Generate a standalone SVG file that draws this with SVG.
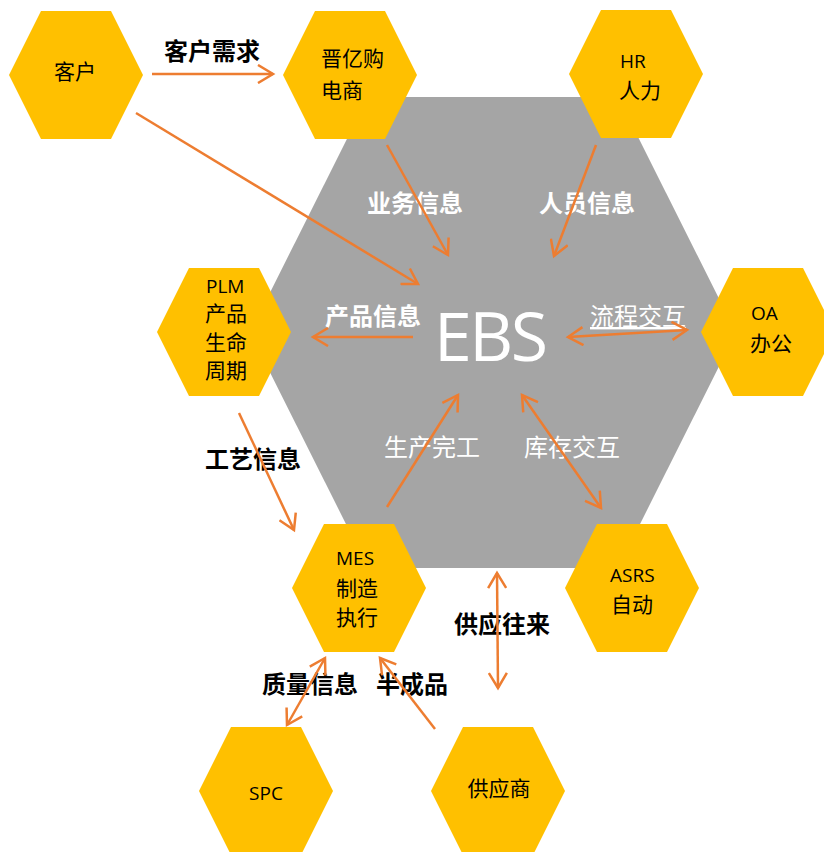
<svg xmlns="http://www.w3.org/2000/svg" xmlns:xlink="http://www.w3.org/1999/xlink" width="824" height="852" viewBox="0 0 824 852">
<style>
.hex{fill:#FFC000}
.nt{font-family:"Noto Sans CJK SC","Noto Sans",sans-serif;font-size:21px;fill:#000}
.lt{font-family:"Open Sans","Noto Sans",sans-serif;font-size:19px;fill:#000}
.lb{font-family:"Noto Sans CJK SC",sans-serif;font-size:24px;font-weight:bold;fill:#000;text-anchor:middle}
.lw{font-family:"Noto Sans CJK SC",sans-serif;font-size:24px;font-weight:bold;fill:#fff;text-anchor:middle}
.lwn{font-family:"Noto Sans CJK SC",sans-serif;font-size:24px;fill:#fff;text-anchor:middle}
.c{stroke:#ED7D31;stroke-width:2.5;fill:none}
</style>
<defs>
<polygon id="hex" points="-35,-64 35,-64 67,0 35,64 -35,64 -67,0"/>
<marker id="ah" viewBox="0 0 20 20" markerWidth="20" markerHeight="20" refX="17" refY="10" markerUnits="userSpaceOnUse" orient="auto-start-reverse">
<path d="M2,1 L17,10 L2,19" fill="none" stroke="#ED7D31" stroke-width="2.5"/>
</marker>
</defs>
<rect width="824" height="852" fill="#fff"/>
<g id="ebs">
<polygon points="368,97 618,97 736,332.5 618,568 368,568 250,332.5" fill="#A5A5A5"/>
<text x="491" y="361" font-family="'Open Sans','Noto Sans',sans-serif" font-size="68" fill="#fff" text-anchor="middle" textLength="114" lengthAdjust="spacing">EBS</text>
</g>
<g id="kehu"><use xlink:href="#hex" x="76" y="75" class="hex"/><text class="nt" x="75" y="79" text-anchor="middle">客户</text></g>
<g id="jinyigou"><use xlink:href="#hex" x="350" y="75" class="hex"/><text class="nt" x="321" y="66">晋亿购</text><text class="nt" x="321" y="98">电商</text></g>
<g id="hr"><use xlink:href="#hex" x="636" y="74" class="hex"/><text class="lt" x="620" y="68">HR</text><text class="nt" x="619" y="98">人力</text></g>
<g id="plm"><use xlink:href="#hex" x="224" y="332" class="hex"/><text class="lt" x="206" y="293">PLM</text><text class="nt" x="205" y="321">产品</text><text class="nt" x="205" y="350">生命</text><text class="nt" x="205" y="378">周期</text></g>
<g id="oa"><use xlink:href="#hex" x="768" y="332" class="hex"/><text class="lt" x="751" y="320">OA</text><text class="nt" x="750" y="351">办公</text></g>
<g id="mes"><use xlink:href="#hex" x="359" y="588" class="hex"/><text class="lt" x="336" y="565">MES</text><text class="nt" x="336" y="596">制造</text><text class="nt" x="336" y="625">执行</text></g>
<g id="asrs"><use xlink:href="#hex" x="632" y="588" class="hex"/><text class="lt" x="610" y="582">ASRS</text><text class="nt" x="611" y="612">自动</text></g>
<g id="spc"><use xlink:href="#hex" x="266" y="791" class="hex"/><text class="lt" x="266" y="800" text-anchor="middle">SPC</text></g>
<g id="gongyingshang"><use xlink:href="#hex" x="498" y="791" class="hex"/><text class="nt" x="499" y="796" text-anchor="middle">供应商</text></g>
<g id="connectors">
<text class="lb" x="212" y="60">客户需求</text>
<text class="lw" x="415" y="212">业务信息</text>
<text class="lw" x="587" y="212">人员信息</text>
<text class="lw" x="373" y="325">产品信息</text>
<text class="lwn" x="638" y="325" text-decoration="underline">流程交互</text>
<text class="lwn" x="432" y="456">生产完工</text>
<text class="lwn" x="572" y="456">库存交互</text>
<text class="lb" x="253" y="468">工艺信息</text>
<text class="lb" x="502" y="633">供应往来</text>
<text class="lb" x="310" y="693">质量信息</text>
<text class="lb" x="412" y="693">半成品</text>
<line class="c" x1="152" y1="74" x2="273" y2="74" marker-end="url(#ah)"/>
<line class="c" x1="136" y1="113" x2="418" y2="284" marker-end="url(#ah)"/>
<line class="c" x1="387" y1="145" x2="448" y2="255" marker-end="url(#ah)"/>
<line class="c" x1="596" y1="145" x2="554" y2="256" marker-end="url(#ah)"/>
<line class="c" x1="413" y1="337" x2="313" y2="337" marker-end="url(#ah)"/>
<line class="c" x1="568" y1="337" x2="687" y2="330" marker-start="url(#ah)" marker-end="url(#ah)"/>
<line class="c" x1="387" y1="507" x2="458" y2="395" marker-end="url(#ah)"/>
<line class="c" x1="522" y1="395" x2="601" y2="508" marker-start="url(#ah)" marker-end="url(#ah)"/>
<line class="c" x1="239" y1="413" x2="294" y2="530" marker-end="url(#ah)"/>
<line class="c" x1="497" y1="573" x2="498" y2="688" marker-start="url(#ah)" marker-end="url(#ah)"/>
<line class="c" x1="287" y1="725" x2="325" y2="658" marker-start="url(#ah)" marker-end="url(#ah)"/>
<line class="c" x1="435" y1="729" x2="380" y2="658" marker-end="url(#ah)"/>
</g>
</svg>
